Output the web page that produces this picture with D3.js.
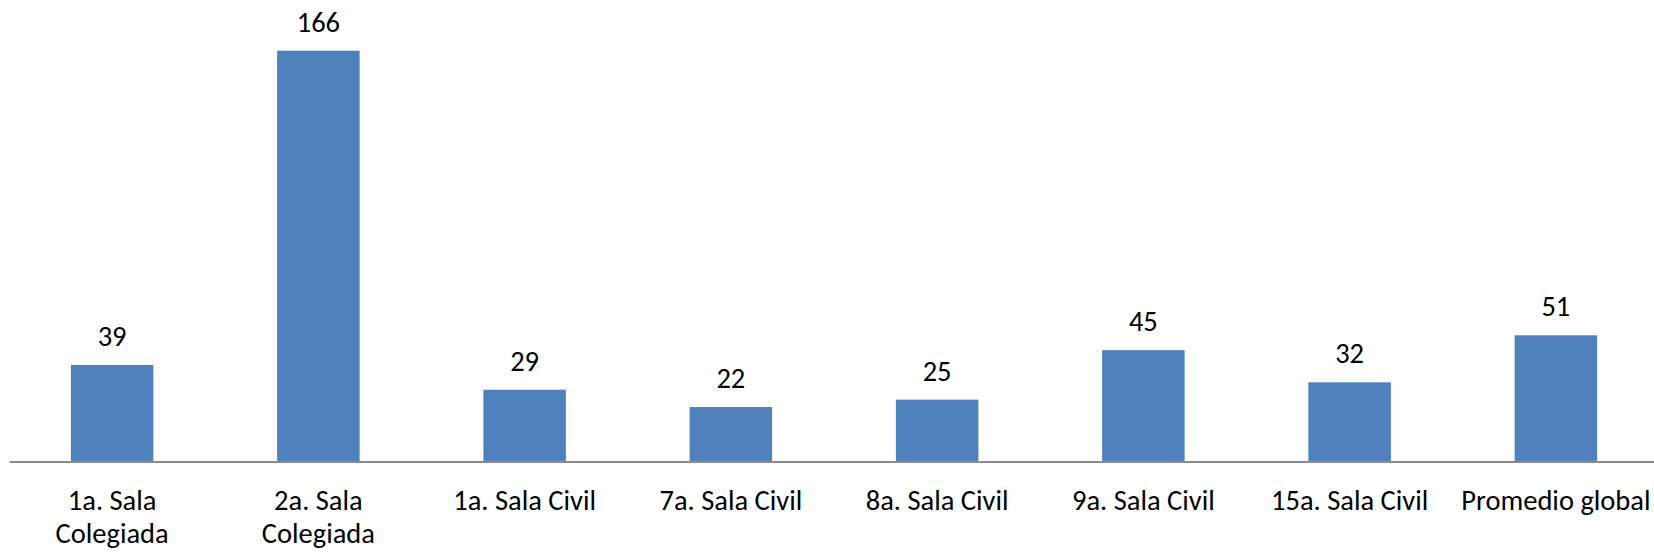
<!DOCTYPE html>
<html>
<head>
<meta charset="utf-8">
<script src="https://cdn.jsdelivr.net/npm/d3@7"></script>
<style>
  body { margin: 0; background: #fff; }
  svg { display: block; }
  text { font-family: Carlito, Calibri, Lato, sans-serif; fill: #000; }
</style>
</head>
<body>
<div id="chart"><svg></svg></div>
<script>
// chart data
const categories = ["1a. Sala\nColegiada", "2a. Sala\nColegiada", "1a. Sala Civil", "7a. Sala Civil",
                    "8a. Sala Civil", "9a. Sala Civil", "15a. Sala Civil", "Promedio global"];
const values = [39, 166, 29, 22, 25, 45, 32, 51];

function drawBars(){
  var W = 1654, H = 552;
  var svg = d3.select("#chart").select("svg")
      .attr("width", W)
      .attr("height", H);

  var baseY = 461.5;
  var fontSize = "28.5px";

  // x scale - one band per sala
  var x = d3.scaleBand()
      .domain(categories)
      .range([9, 1659])
      .paddingInner(0.6)
      .paddingOuter(0.3);

  // y scale
  var y = d3.scaleLinear()
      .domain([0, 166])
      .range([baseY, 50.7]);

  // bars
  svg.append("g")
    .selectAll("rect")
    .data(values)
    .enter().append("rect")
      .attr("x", function(d, i) { return x(categories[i]); })
      .attr("y", function(d) { return y(d); })
      .attr("width", x.bandwidth())
      .attr("height", function(d) { return baseY - y(d); })
      .attr("fill", "#4F81BD");

  // value labels
  svg.append("g")
    .selectAll("text")
    .data(values)
    .enter().append("text")
      .attr("x", function(d, i) { return x(categories[i]) + x.bandwidth() / 2; })
      .attr("y", function(d) { return y(d) - 19; })
      .style("text-anchor", "middle")
      .style("font-size", fontSize)
      .text(function(d) { return d; });

  // x axis
  var xAxis = svg.append("g")
      .attr("class", "axis x")
      .attr("transform", "translate(0," + baseY + ")")
      .call(d3.axisBottom(x).tickSize(0).tickSizeOuter(0));

  xAxis.select(".domain")
      .attr("stroke", "#8c8c8c")
      .attr("stroke-width", 2);

  xAxis.selectAll(".tick text")
      .style("font-size", fontSize)
      .style("fill", "#000")
      .attr("y", 0)
      .attr("dy", null)
      .each(function(d) {
        var t = d3.select(this);
        var lines = d.split("\n");
        t.text(null);
        lines.forEach(function(line, k) {
          t.append("tspan")
            .attr("x", 0)
            .attr("y", 48 + k * 33)
            .text(line);
        });
      });
}

drawBars();
</script>
</body>
</html>
